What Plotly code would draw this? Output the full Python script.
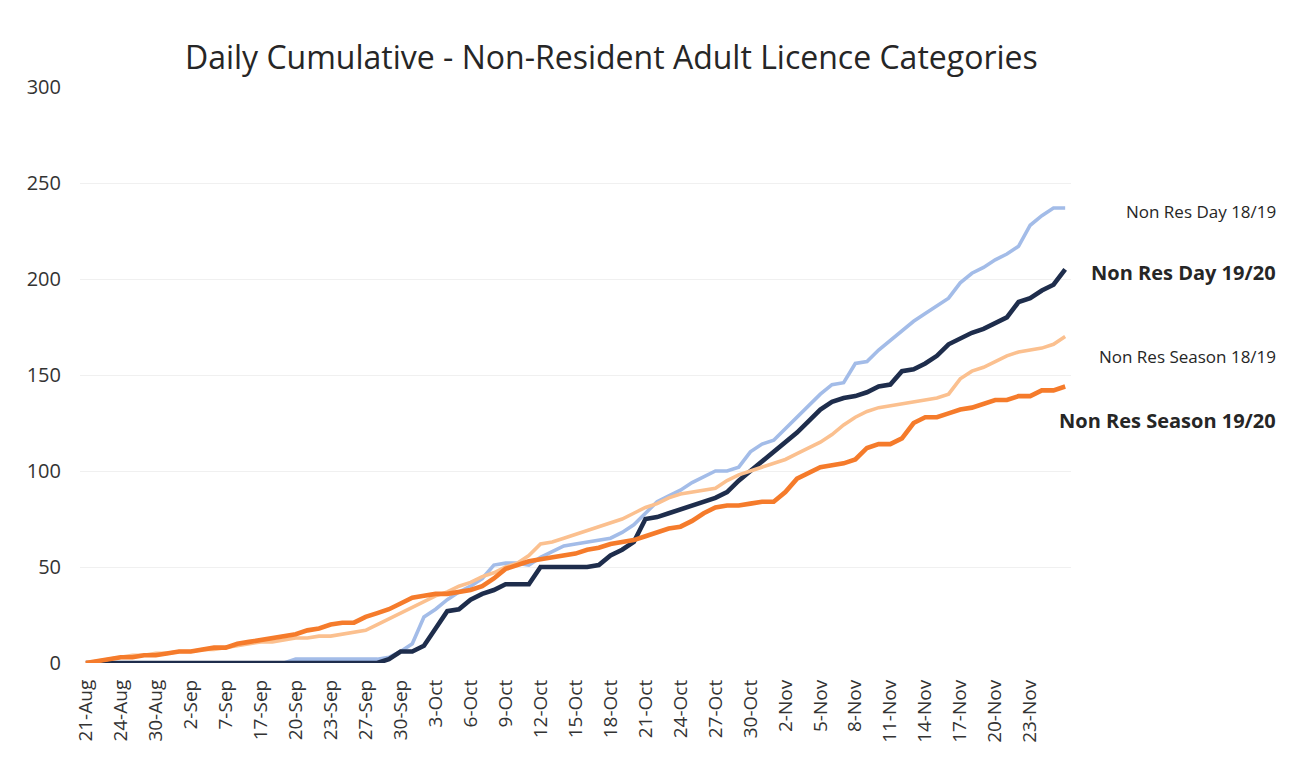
import plotly.graph_objects as go

# category dates (every 3rd one labelled, as in the source sheet)
dates = [
    "21-Aug", "22-Aug", "23-Aug", "24-Aug", "26-Aug", "28-Aug", "30-Aug", "31-Aug", "1-Sep",
    "2-Sep", "4-Sep", "6-Sep", "7-Sep", "10-Sep", "14-Sep", "17-Sep", "18-Sep", "19-Sep",
    "20-Sep", "21-Sep", "22-Sep", "23-Sep", "24-Sep", "26-Sep", "27-Sep", "28-Sep", "29-Sep",
    "30-Sep",
] + [f"{d}-Oct" for d in range(1, 32)] + [f"{d}-Nov" for d in range(1, 27)]
tick_labels = dates[:82:3]

day_1819 = [0] * 18 + [2] * 8 + [
    3, 6, 10, 24, 28, 33, 37, 40, 44, 51, 52, 52, 51, 55, 58, 61, 62, 63, 64, 65,
    68, 72, 78, 84, 87, 90, 94, 97, 100, 100, 102, 110, 114, 116, 122, 128, 134, 140,
    145, 146, 156, 157, 163, 168, 173, 178, 182, 186, 190, 198, 203, 206, 210, 213,
    217, 228, 233, 237, 237,
]

day_1920 = [0] * 26 + [
    2, 6, 6, 9, 18, 27, 28, 33, 36, 38, 41, 41, 41, 50, 50, 50, 50, 50, 51, 56,
    59, 63, 75, 76, 78, 80, 82, 84, 86, 89, 95, 100, 105, 110, 115, 120, 126, 132,
    136, 138, 139, 141, 144, 145, 152, 153, 156, 160, 166, 169, 172, 174, 177, 180,
    188, 190, 194, 197, 205,
]

season_1819 = [
    0, 1, 2, 3, 4, 4, 5, 5, 6, 6, 7, 7, 8, 9, 10, 11, 11, 12, 13, 13, 14, 14, 15, 16,
    17, 20, 23, 26, 29, 32, 35, 37, 40, 42, 45, 47, 50, 52, 56, 62, 63, 65, 67, 69,
    71, 73, 75, 78, 81, 83, 86, 88, 89, 90, 91, 95, 98, 100, 102, 104, 106, 109, 112,
    115, 119, 124, 128, 131, 133, 134, 135, 136, 137, 138, 140, 148, 152, 154, 157,
    160, 162, 163, 164, 166, 170,
]

season_1920 = [
    0, 1, 2, 3, 3, 4, 4, 5, 6, 6, 7, 8, 8, 10, 11, 12, 13, 14, 15, 17, 18, 20, 21, 21,
    24, 26, 28, 31, 34, 35, 36, 36, 37, 38, 40, 44, 49, 51, 53, 54, 55, 56, 57, 59,
    60, 62, 63, 64, 66, 68, 70, 71, 74, 78, 81, 82, 82, 83, 84, 84, 89, 96, 99, 102,
    103, 104, 106, 112, 114, 114, 117, 125, 128, 128, 130, 132, 133, 135, 137, 137,
    139, 139, 142, 142, 144,
]

series = [
    ("Non Res Day 18/19", day_1819, "#A3BCE8", 3.6, False, 235),
    ("Non Res Day 19/20", day_1920, "#1E2D4C", 4.6, True, 203.5),
    ("Non Res Season 18/19", season_1819, "#FBC08F", 3.6, False, 159.5),
    ("Non Res Season 19/20", season_1920, "#F57B2B", 4.6, True, 126.5),
]

fig = go.Figure()
for name, vals, color, width, bold, label_y in series:
    fig.add_trace(go.Scatter(
        x=dates, y=vals, mode="lines", name=name,
        line=dict(color=color, width=width),
    ))
    fig.add_annotation(
        x=1.209, xref="paper", y=label_y, yref="y",
        text=f"<b>{name}</b>" if bold else name,
        showarrow=False, xanchor="right", yanchor="middle",
        font=dict(size=20 if bold else 17, color="#262626"),
    )

fig.update_layout(
    width=1292, height=760,
    paper_bgcolor="white", plot_bgcolor="white",
    font=dict(family="Open Sans, Noto Sans, sans-serif", color="#404040"),
    title=dict(
        text="Daily Cumulative - Non-Resident Adult Licence Categories",
        x=0.467, xanchor="center", y=0.935, yanchor="middle",
        font=dict(size=32, color="#262626"),
    ),
    margin=dict(l=72, r=229, t=79, b=105),
    showlegend=False,
)

fig.update_xaxes(
    type="category", range=[-0.5, len(dates) - 0.5],
    tickmode="array", tickvals=tick_labels, ticktext=tick_labels,
    tickangle=-90, tickfont=dict(size=19, color="#333333"),
    showgrid=False, showline=False, zeroline=False, ticks="",
    ticklabelstandoff=12,
)
fig.update_yaxes(
    range=[0, 300], dtick=50, showgrid=True, gridcolor="#F0F0F0", gridwidth=1,
    zeroline=False, showline=False, tickfont=dict(size=20, color="#333333"),
    ticklabelstandoff=18,
)

fig.write_html("out.html")
